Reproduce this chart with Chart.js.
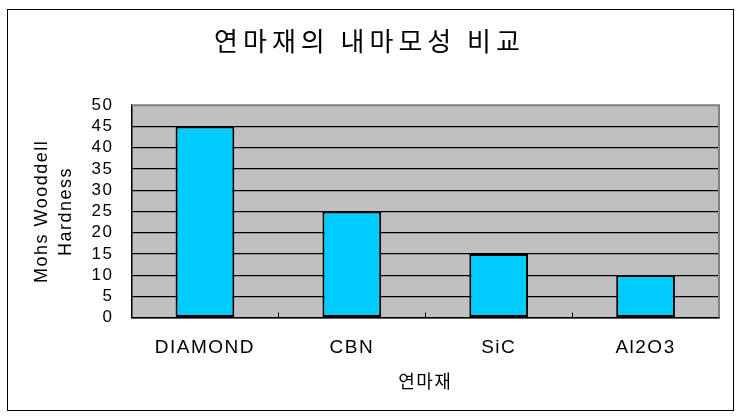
<!DOCTYPE html>
<html>
<head>
<meta charset="utf-8">
<script src="https://cdn.jsdelivr.net/npm/chart.js@4/dist/chart.umd.min.js"></script>
<style>
  html, body { margin: 0; padding: 0; background: #fff; }
  #wrap { width: 743px; height: 420px; position: relative; }
</style>
</head>
<body>
<div id="wrap"><canvas id="c" width="743" height="420"></canvas></div>
<script>
const categories = ["DIAMOND", "CBN", "SiC", "Al2O3"];
const hardness = [45, 25, 15, 10];
const chartTitle = "연마재의 내마모성 비교";
const xTitle = "연마재";
const yTitle = ["Mohs Wooddell", "Hardness"];

const latin = "'Liberation Sans', Arial, sans-serif";
const korean = "'Noto Sans CJK KR', 'Noto Sans', sans-serif";

const decor = {
  id: 'decor',
  beforeUpdate(chart) { chart.ctx.letterSpacing = '1.5px'; },
  beforeDraw(chart) {
    const ctx = chart.ctx;
    ctx.letterSpacing = '1.5px';
    const a = chart.chartArea;
    ctx.save();
    ctx.fillStyle = '#ffffff';
    ctx.fillRect(0, 0, chart.width, chart.height);
    ctx.strokeStyle = '#000000';
    ctx.lineWidth = 1;
    ctx.strokeRect(7.5, 9.5, chart.width - 17, chart.height - 19);
    ctx.fillStyle = '#c0c0c0';
    ctx.fillRect(a.left, a.top, a.right - a.left, a.bottom - a.top);
    ctx.restore();
    if (chart.titleBlock && !chart.titleBlock._wrapped) {
      const tb = chart.titleBlock;
      const orig = tb.draw;
      tb.draw = function () {
        const c = this.ctx;
        c.save();
        c.letterSpacing = '5px';
        orig.apply(this, arguments);
        c.restore();
      };
      tb._wrapped = true;
    }
  },
  afterDatasetsDraw(chart) {
    const ctx = chart.ctx;
    const a = chart.chartArea;
    const xs = chart.scales.x;
    ctx.save();
    ctx.strokeStyle = '#808080';
    ctx.lineWidth = 2;
    ctx.beginPath();
    ctx.moveTo(a.left, a.top);
    ctx.lineTo(a.right, a.top);
    ctx.lineTo(a.right, a.bottom);
    ctx.stroke();
    ctx.strokeStyle = '#000000';
    ctx.lineWidth = 1;
    ctx.beginPath();
    for (let i = 0; i < categories.length - 1; i++) {
      const px = Math.round((xs.getPixelForValue(i) + xs.getPixelForValue(i + 1)) / 2) + 0.5;
      ctx.moveTo(px, a.bottom);
      ctx.lineTo(px, a.bottom - 5);
    }
    ctx.stroke();
    ctx.restore();
  }
};

new Chart(document.getElementById('c'), {
  type: 'bar',
  data: {
    labels: categories,
    datasets: [{
      data: hardness,
      backgroundColor: '#00ccff',
      borderColor: '#000000',
      borderWidth: 2,
      borderSkipped: false,
      barPercentage: 0.4,
      categoryPercentage: 1.0
    }]
  },
  options: {
    responsive: false,
    animation: false,
    events: [],
    layout: { padding: { left: 20, right: 24, top: 10, bottom: 28 } },
    plugins: {
      legend: { display: false },
      tooltip: { enabled: false },
      title: {
        display: true,
        text: chartTitle,
        color: '#000000',
        font: { family: korean, size: 26, weight: 'normal', lineHeight: 1.2 },
        padding: { top: 16, bottom: 48 }
      }
    },
    scales: {
      x: {
        grid: { display: false, drawTicks: false, tickLength: 0 },
        border: { display: true, color: '#000000', width: 1.5 },
        ticks: {
          color: '#000000',
          font: { family: latin, size: 19, lineHeight: 1.2 },
          padding: 18.5,
          maxRotation: 0
        },
        title: {
          display: true,
          text: xTitle,
          color: '#000000',
          font: { family: korean, size: 18, lineHeight: 1.2 },
          padding: { top: -7, bottom: 0 }
        }
      },
      y: {
        min: 0,
        max: 50,
        grid: {
          color: (c) => (c.tick && c.tick.value === 50 ? 'rgba(0,0,0,0)' : '#000000'),
          lineWidth: 1.2,
          drawTicks: false,
          tickLength: 0
        },
        border: { display: true, color: '#000000', width: 1.5 },
        ticks: {
          stepSize: 5,
          autoSkip: false,
          color: '#000000',
          font: { family: latin, size: 17, lineHeight: 1.2 },
          padding: 18
        },
        title: {
          display: true,
          text: yTitle,
          color: '#000000',
          font: { family: latin, size: 18, lineHeight: 1.35 },
          padding: { top: 10, bottom: -5 }
        }
      }
    }
  },
  plugins: [decor]
});
</script>
</body>
</html>
